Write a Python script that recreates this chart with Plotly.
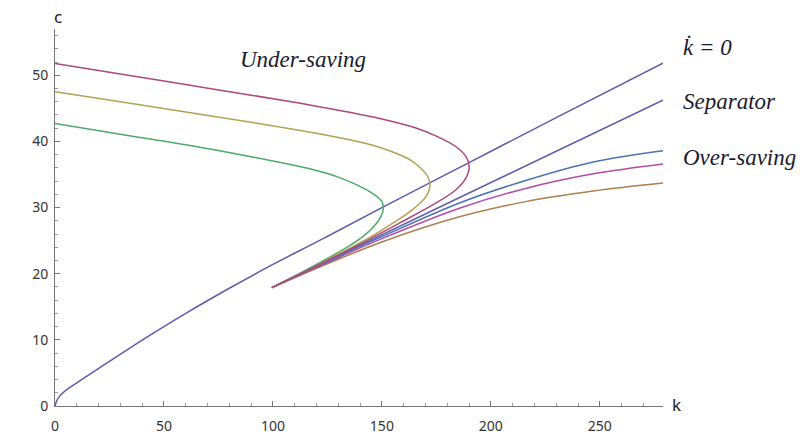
import plotly.graph_objects as go

# k-dot = 0 locus
kdot_k = [0, 0.8, 2, 4, 7, 12, 18, 25, 32, 40, 60, 80, 100, 123, 150, 190, 230, 280]
kdot_c = [0, 0.8, 1.45, 2.1, 2.85, 3.95, 5.25, 6.75, 8.25, 9.95, 14.0, 17.8, 21.4, 25.3, 30.0, 36.8, 43.6, 52.0]

# separator (stable arm)
sep_k = [99.5, 190, 280]
sep_c = [17.9, 32.2, 46.4]

# under-saving paths (start at k=100, bend back to k=0)
under1_k = [99.5, 125, 143, 158, 173.3, 184, 188.6, 190.1, 188.6, 184, 175, 165, 150, 127, 112, 90, 60, 30, 0]
under1_c = [17.9, 22.0, 25.0, 27.65, 30.4, 32.7, 34.5, 36.2, 37.7, 39.2, 40.8, 42.1, 43.4, 44.9, 45.8, 47.0, 48.6, 50.2, 51.8]

under2_k = [99.5, 125, 145, 155, 164.1, 170.3, 172.1, 171, 168, 163, 155, 145, 130, 112, 90, 60, 30, 0]
under2_c = [17.9, 22.1, 25.6, 27.65, 29.7, 31.7, 33.45, 34.7, 35.9, 37.2, 38.4, 39.5, 40.6, 41.7, 42.9, 44.45, 46.0, 47.5]

under3_k = [99.5, 112, 125, 135, 142, 146.5, 149.5, 150.7, 149.8, 148, 144, 138, 130, 120, 108, 90, 60, 30, 0]
under3_c = [17.9, 20.0, 22.3, 24.2, 25.8, 27.2, 28.6, 30.0, 31.0, 31.6, 32.5, 33.5, 34.6, 35.6, 36.5, 37.7, 39.5, 41.1, 42.7]

# over-saving paths
over1_k = [99.5, 125, 150, 185.6, 216, 247, 279]
over1_c = [17.9, 21.85, 25.6, 30.7, 34.1, 36.9, 38.6]

over2_k = [99.5, 125, 150, 185.6, 216, 247, 279]
over2_c = [17.9, 21.7, 25.3, 29.9, 32.9, 35.1, 36.6]

over3_k = [99.5, 125, 150, 185.6, 216, 247, 279]
over3_c = [17.9, 21.5, 24.8, 28.6, 30.9, 32.5, 33.7]

x_ticks = [0, 50, 100, 150, 200, 250]
y_ticks = [0, 10, 20, 30, 40, 50]

series = [
    (kdot_k, kdot_c, "#5c5cab"),
    (sep_k, sep_c, "#5c5cab"),
    (over3_k, over3_c, "#ad7e4e"),
    (over2_k, over2_c, "#b24cab"),
    (over1_k, over1_c, "#4f72ad"),
    (under3_k, under3_c, "#4cab6a"),
    (under2_k, under2_c, "#b3a253"),
    (under1_k, under1_c, "#ab4a7d"),
]

fig = go.Figure()
for xs, ys, col in series:
    fig.add_trace(go.Scatter(x=xs, y=ys, mode="lines",
                             line=dict(color=col, width=1.5, shape="spline", smoothing=1.0),
                             hoverinfo="skip", showlegend=False))

tickfont = dict(family="Noto Sans, Open Sans, sans-serif", size=14, color="#333333")
fig.update_xaxes(range=[0, 279], tickvals=x_ticks, ticktext=[str(v) for v in x_ticks],
                 showgrid=False, zeroline=False, showline=True, linecolor="#777777", linewidth=1,
                 ticks="inside", ticklen=5, tickcolor="#777777", tickfont=tickfont,
                 ticklabelstandoff=7, automargin=False,
                 minor=dict(dtick=10, ticks="inside", ticklen=3, tickcolor="#999999", showgrid=False),
                 fixedrange=True)
fig.update_yaxes(range=[0, 57], tickvals=y_ticks, ticktext=[str(v) for v in y_ticks],
                 showgrid=False, zeroline=False, showline=True, linecolor="#777777", linewidth=1,
                 ticks="inside", ticklen=5, tickcolor="#777777", tickfont=tickfont,
                 ticklabelstandoff=3, automargin=False,
                 minor=dict(dtick=2, ticks="inside", ticklen=3, tickcolor="#999999", showgrid=False),
                 fixedrange=True)

serif = "Liberation Serif, Times New Roman, serif"
ann = [
    dict(text="<i>Under-saving</i>", x=0.408, y=0.918, xanchor="center"),
    dict(text="<i>k\u0307 = 0</i>", x=1.030, y=0.952, xanchor="left"),
    dict(text="<i>Separator</i>", x=1.030, y=0.809, xanchor="left"),
    dict(text="<i>Over-saving</i>", x=1.030, y=0.660, xanchor="left"),
]
for a in ann:
    fig.add_annotation(text=a["text"], xref="paper", yref="paper", x=a["x"], y=a["y"],
                       xanchor=a["xanchor"], yanchor="middle", showarrow=False,
                       font=dict(family=serif, size=23, color="#1a1a2e"))

labfont = dict(family="Noto Sans, Open Sans, sans-serif", size=17, color="#222222")
fig.add_annotation(text="c", xref="paper", yref="paper", x=0.005, y=1.034,
                   xanchor="center", yanchor="middle", showarrow=False, font=labfont)
fig.add_annotation(text="k", xref="paper", yref="paper", x=1.023, y=0.005,
                   xanchor="center", yanchor="middle", showarrow=False, font=labfont)

fig.update_layout(width=802, height=438, margin=dict(l=55, r=139, t=29, b=32, autoexpand=False),
                  paper_bgcolor="white", plot_bgcolor="white")
# remove the page's default body margin so the figure sits at the window's corner
fig.write_html("out.html", config={"displayModeBar": False},
               post_script="document.body.style.margin='0';")
